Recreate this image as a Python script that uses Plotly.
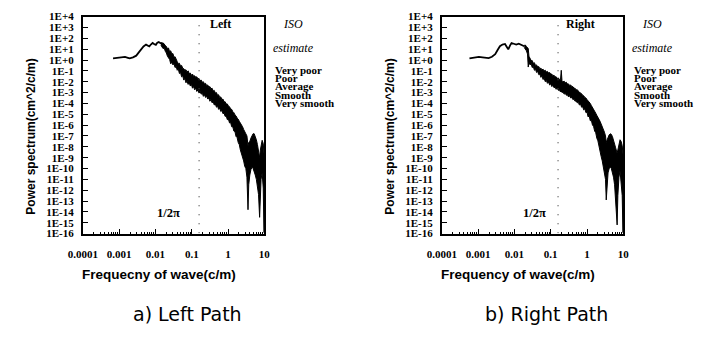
import math
import plotly.graph_objects as go

W, H = 704, 337

# ---------------- data (exponents of 10) ----------------
x_tick_vals = [1e-4, 1e-3, 1e-2, 1e-1, 1, 10]
x_tick_text = ["0.0001", "0.001", "0.01", "0.1", "1", "10"]
y_tick_vals = [1e4, 1e3, 1e2, 1e1, 1e0, 1e-1, 1e-2, 1e-3, 1e-4, 1e-5, 1e-6, 1e-7,
               1e-8, 1e-9, 1e-10, 1e-11, 1e-12, 1e-13, 1e-14, 1e-15, 1e-16]
y_tick_text = ["1E+4", "1E+3", "1E+2", "1E+1", "1E+0", "1E-1", "1E-2", "1E-3", "1E-4",
               "1E-5", "1E-6", "1E-7", "1E-8", "1E-9", "1E-10", "1E-11", "1E-12",
               "1E-13", "1E-14", "1E-15", "1E-16"]
iso_classes = ["Very poor", "Poor", "Average", "Smooth", "Very smooth"]

# Left path: smooth low-frequency part
left_line_fexp = [-3.17, -3.05, -2.98, -2.90, -2.84, -2.76, -2.71, -2.62, -2.53, -2.46, -2.40,
                  -2.33, -2.26, -2.21, -2.17, -2.12, -2.08, -2.03, -1.99, -1.95, -1.91, -1.86,
                  -1.82, -1.77]
left_line_pexp = [0.15, 0.22, 0.24, 0.30, 0.28, 0.20, 0.15, 0.25, 0.40, 0.70, 0.98,
                  1.25, 1.42, 1.35, 1.25, 1.45, 1.57, 1.45, 1.40, 1.60, 1.66, 1.55,
                  1.50, 1.42]
# Left path: noisy band (upper / lower envelope)
left_band_fexp = [-1.85, -1.82, -1.79, -1.76, -1.73, -1.70, -1.67, -1.64, -1.61, -1.58, -1.55,
                  -1.52, -1.49, -1.46, -1.43, -1.40, -1.37, -1.34, -1.31, -1.28, -1.25, -1.22,
                  -1.19, -1.16, -1.13, -1.10, -1.07, -1.04, -1.01, -0.98, -0.95, -0.92, -0.89,
                  -0.86, -0.83, -0.80, -0.77, -0.74, -0.71, -0.68, -0.65, -0.62, -0.59, -0.56,
                  -0.53, -0.50, -0.47, -0.44, -0.41, -0.38, -0.35, -0.32, -0.29, -0.26, -0.23,
                  -0.20, -0.17, -0.14, -0.11, -0.08, -0.05, -0.02, 0.01, 0.04, 0.07, 0.10,
                  0.13, 0.16, 0.19, 0.22, 0.25, 0.28, 0.31, 0.34, 0.37, 0.40, 0.43, 0.46,
                  0.49, 0.52, 0.55, 0.57, 0.60, 0.63, 0.66, 0.69, 0.72, 0.75, 0.78, 0.81,
                  0.84, 0.87, 0.89, 0.91, 0.94, 0.97, 0.99, 1.00]
left_band_upper = [1.62, 1.55, 1.58, 1.42, 1.35, 1.25, 1.05, 1.10, 0.75, 0.85, 0.55,
                   0.60, 0.25, 0.30, -0.05, -0.15, -0.35, -0.30, -0.55, -0.50, -0.75, -0.80,
                   -0.95, -0.90, -1.10, -1.00, -1.25, -1.20, -1.40, -1.30, -1.50, -1.45, -1.60,
                   -1.55, -1.75, -1.70, -1.90, -1.85, -2.05, -2.00, -2.20, -2.15, -2.35, -2.30,
                   -2.50, -2.45, -2.65, -2.60, -2.85, -2.80, -3.05, -3.00, -3.25, -3.20, -3.45,
                   -3.40, -3.65, -3.60, -3.85, -3.85, -4.05, -4.05, -4.25, -4.30, -4.50, -4.55,
                   -4.75, -4.85, -5.05, -5.15, -5.35, -5.45, -5.65, -5.80, -6.00, -6.15, -6.40, -6.55,
                   -6.80, -7.00, -7.90, -7.60, -7.50, -7.20, -6.95, -6.80, -6.80, -7.00, -7.35, -7.80,
                   -8.30, -9.00, -8.30, -7.80, -7.40, -7.70, -8.40, -9.00]
left_band_lower = [1.38, 1.20, 1.05, 1.10, 0.80, 0.65, 0.35, 0.20, 0.05, -0.35, -0.20,
                   -0.45, -0.35, -0.70, -0.60, -0.95, -0.85, -1.25, -1.15, -1.55, -1.45, -1.85,
                   -1.70, -2.10, -1.95, -2.25, -2.10, -2.40, -2.25, -2.60, -2.45, -2.75, -2.60,
                   -2.90, -2.75, -3.05, -2.90, -3.15, -3.05, -3.35, -3.20, -3.45, -3.35, -3.60,
                   -3.50, -3.80, -3.65, -3.95, -3.85, -4.15, -4.05, -4.35, -4.25, -4.55, -4.45,
                   -4.75, -4.65, -4.95, -4.90, -5.20, -5.15, -5.50, -5.45, -5.80, -5.75, -6.15,
                   -6.15, -6.55, -6.60, -7.05, -7.15, -7.60, -7.80, -8.30, -8.50, -9.00, -9.30, -9.80,
                   -10.0, -10.8, -13.8, -11.5, -10.6, -10.1, -9.9, -10.0, -10.2, -10.6, -11.0, -11.6,
                   -12.4, -14.5, -12.8, -11.0, -10.4, -11.8, -15.9, -15.9]

# Right path: smooth low-frequency part
right_line_fexp = [-3.24, -3.10, -2.98, -2.88, -2.80, -2.71, -2.62, -2.53, -2.46, -2.40, -2.33,
                   -2.26, -2.21, -2.17, -2.12, -2.08, -2.02, -1.95, -1.88, -1.82, -1.77, -1.73]
right_line_pexp = [0.15, 0.22, 0.29, 0.25, 0.22, 0.18, 0.30, 0.53, 0.95, 1.27, 1.42,
                   1.48, 1.20, 0.98, 1.35, 1.57, 1.50, 1.42, 1.50, 1.42, 1.35, 1.27]
# Right path: noisy band (upper / lower envelope)
right_band_fexp = [-1.73, -1.70, -1.67, -1.64, -1.62, -1.60, -1.57, -1.54, -1.51, -1.48, -1.45,
                   -1.42, -1.39, -1.36, -1.33, -1.30, -1.27, -1.24, -1.21, -1.18, -1.15, -1.12,
                   -1.09, -1.06, -1.03, -1.00, -0.97, -0.94, -0.91, -0.88, -0.85, -0.82, -0.79,
                   -0.76, -0.73, -0.71, -0.69, -0.66, -0.63, -0.60, -0.57, -0.54, -0.51, -0.48,
                   -0.45, -0.42, -0.39, -0.36, -0.33, -0.30, -0.27, -0.24, -0.21, -0.18, -0.15,
                   -0.12, -0.09, -0.06, -0.03, 0.00, 0.03, 0.06, 0.09, 0.12, 0.15, 0.18,
                   0.21, 0.24, 0.27, 0.30, 0.33, 0.36, 0.39, 0.42, 0.45, 0.48, 0.51,
                   0.53, 0.55, 0.58, 0.61, 0.64, 0.67, 0.70, 0.73, 0.76, 0.79, 0.83,
                   0.85, 0.88, 0.91, 0.94, 0.97, 0.99, 1.00]
right_band_upper = [1.35, 1.38, 1.25, 1.15, 1.05, 0.35, 0.20, -0.05, -0.05, -0.30, -0.25,
                    -0.50, -0.45, -0.65, -0.60, -0.80, -0.75, -0.90, -0.85, -1.00, -0.95, -1.10,
                    -1.05, -1.20, -1.15, -1.30, -1.30, -1.45, -1.40, -1.55, -1.55, -1.70, -1.65,
                    -1.80, -1.80, -0.95, -1.90, -2.00, -1.95, -2.10, -2.05, -2.20, -2.20, -2.35,
                    -2.30, -2.45, -2.45, -2.60, -2.60, -2.75, -2.75, -2.90, -2.95, -3.05, -3.10,
                    -3.25, -3.30, -3.45, -3.50, -3.65, -3.75, -3.90, -4.00, -4.20, -4.35, -4.55,
                    -4.70, -4.90, -5.10, -5.25, -5.45, -5.65, -5.90, -6.10, -6.35, -6.65, -7.00,
                    -7.60, -7.40, -7.10, -6.90, -6.80, -6.85, -7.05, -7.35, -7.70, -8.10, -8.60,
                    -8.20, -7.70, -7.35, -7.50, -7.90, -8.60, -9.00]
right_band_lower = [1.15, 1.00, 0.85, 0.55, -0.65, -0.20, -0.45, -0.35, -0.70, -0.60, -0.95,
                    -0.85, -1.15, -1.05, -1.35, -1.30, -1.60, -1.50, -1.80, -1.70, -2.00, -1.90,
                    -2.15, -2.05, -2.30, -2.20, -2.45, -2.35, -2.55, -2.50, -2.70, -2.60, -2.80,
                    -2.75, -2.95, -2.85, -3.00, -2.95, -3.15, -3.05, -3.25, -3.20, -3.40, -3.30,
                    -3.50, -3.45, -3.65, -3.60, -3.80, -3.75, -3.95, -3.90, -4.15, -4.05, -4.35,
                    -4.30, -4.60, -4.50, -4.85, -4.80, -5.25, -5.15, -5.60, -5.55, -6.00, -6.10,
                    -6.55, -6.70, -7.20, -7.45, -8.00, -8.30, -8.90, -9.30, -9.90, -10.3, -11.0,
                    -12.9, -11.5, -10.4, -10.0, -9.9, -10.0, -10.3, -10.8, -11.5, -12.3, -15.2,
                    -12.5, -10.8, -10.2, -10.9, -12.5, -15.9, -15.9]

# ---------------- layout helpers ----------------
def px(x):
    return x / W


def py(y):
    return 1 - y / H


SERIF = "Liberation Serif"
SANS = "Liberation Sans"

panels = [
    dict(xa="x", ya="y", off=0, side="Left",
         xtitle="Frequecny of wave(c/m)", caption="a) Left Path",
         line_f=left_line_fexp, line_p=left_line_pexp,
         band_f=left_band_fexp, band_u=left_band_upper, band_l=left_band_lower,
         side_x=212, half_pi_x=158),
    dict(xa="x2", ya="y2", off=370, side="Right",
         xtitle="Frequency of wave(c/m)", caption="b) Right Path",
         line_f=right_line_fexp, line_p=right_line_pexp,
         band_f=right_band_fexp, band_u=right_band_upper, band_l=right_band_lower,
         side_x=583, half_pi_x=535),
]

fig = go.Figure()
annotations = []

for p in panels:
    bf = [10 ** e for e in p["band_f"]]
    bu = [10 ** e for e in p["band_u"]]
    bl = [10 ** e for e in p["band_l"]]
    fig.add_trace(go.Scatter(
        x=bf + bf[::-1], y=bu + bl[::-1], fill="toself", fillcolor="black",
        mode="lines", line=dict(color="black", width=1), xaxis=p["xa"], yaxis=p["ya"],
        hoverinfo="skip", showlegend=False))
    fig.add_trace(go.Scatter(
        x=[10 ** e for e in p["line_f"]], y=[10 ** e for e in p["line_p"]],
        mode="lines", line=dict(color="black", width=1.8), xaxis=p["xa"], yaxis=p["ya"],
        showlegend=False))
    # 1/(2*pi) dotted marker line
    fig.add_trace(go.Scatter(
        x=[1 / (2 * math.pi)] * 2, y=[10 ** 3.2, 1e-16], mode="lines",
        line=dict(color="#444", width=1.2, dash="1px,8px"),
        xaxis=p["xa"], yaxis=p["ya"], showlegend=False))

    o = p["off"]
    annotations += [
        dict(text="Power spectrum(cm^2/c/m)", x=px(17 + o), y=py(135), textangle=-90,
             font=dict(family=SANS, size=12, color="black", weight="bold")),
        dict(text=p["xtitle"], x=px(148 + o), y=py(278),
             font=dict(family=SANS, size=13.5, color="black", weight="bold")),
        dict(text=p["caption"], x=px(178 + o), y=py(319),
             font=dict(family="DejaVu Sans", size=19, color="black")),
        dict(text=p["side"], x=px(p["side_x"]), y=py(19),
             font=dict(family=SERIF, size=12, color="black", weight="bold")),
        dict(text="1/2\u03c0", x=px(p["half_pi_x"]), y=py(215),
             font=dict(family=SERIF, size=12.5, color="black", weight="bold")),
        dict(text="<i>ISO</i>", x=px(287 + o), y=py(19),
             font=dict(family=SERIF, size=12, color="black")),
        dict(text="<i>estimate</i>", x=px(287 + o), y=py(44),
             font=dict(family=SERIF, size=12, color="black")),
    ]
    for i, c in enumerate(iso_classes):
        annotations.append(dict(text=c, x=px(266 + o), y=py(66 + 8.7 * i), xanchor="left",
                                font=dict(family=SERIF, size=11, color="black", weight="bold")))

for a in annotations:
    a.setdefault("xanchor", "center")
    a.update(xref="paper", yref="paper", yanchor="middle", showarrow=False)

axis_common = dict(showline=True, mirror=True, linecolor="black", linewidth=2,
                   showgrid=False, zeroline=False, ticks="inside", tickcolor="black")

xaxis_kw = dict(type="log", range=[-4, 1], tickmode="array", tickvals=x_tick_vals,
                ticktext=x_tick_text, ticklen=5, tickwidth=1.3,
                tickfont=dict(family=SERIF, size=11, color="black", weight="bold"),
                ticklabelstandoff=9,
                minor=dict(ticks="inside", ticklen=2, tickcolor="black", dtick="D1",
                           showgrid=False),
                **axis_common)
yaxis_kw = dict(type="log", range=[-16, 4], tickmode="array", tickvals=y_tick_vals,
                ticktext=y_tick_text, ticklen=5, tickwidth=1.3,
                tickfont=dict(family=SERIF, size=11, color="black", weight="bold"),
                ticklabelstandoff=5, **axis_common)

fig.update_layout(
    width=W, height=H, margin=dict(l=0, r=0, t=0, b=0),
    paper_bgcolor="white", plot_bgcolor="white", showlegend=False,
    xaxis=dict(domain=[px(70), px(257)], anchor="y", **xaxis_kw),
    yaxis=dict(domain=[py(236), py(11)], anchor="x", **yaxis_kw),
    xaxis2=dict(domain=[px(440), px(627)], anchor="y2", **xaxis_kw),
    yaxis2=dict(domain=[py(236), py(11)], anchor="x2", **yaxis_kw),
    annotations=annotations,
)

fig.write_html("out.html", config={"displayModeBar": False},
               post_script="document.body.style.margin='0px';"
                           "document.body.style.overflow='hidden';")
